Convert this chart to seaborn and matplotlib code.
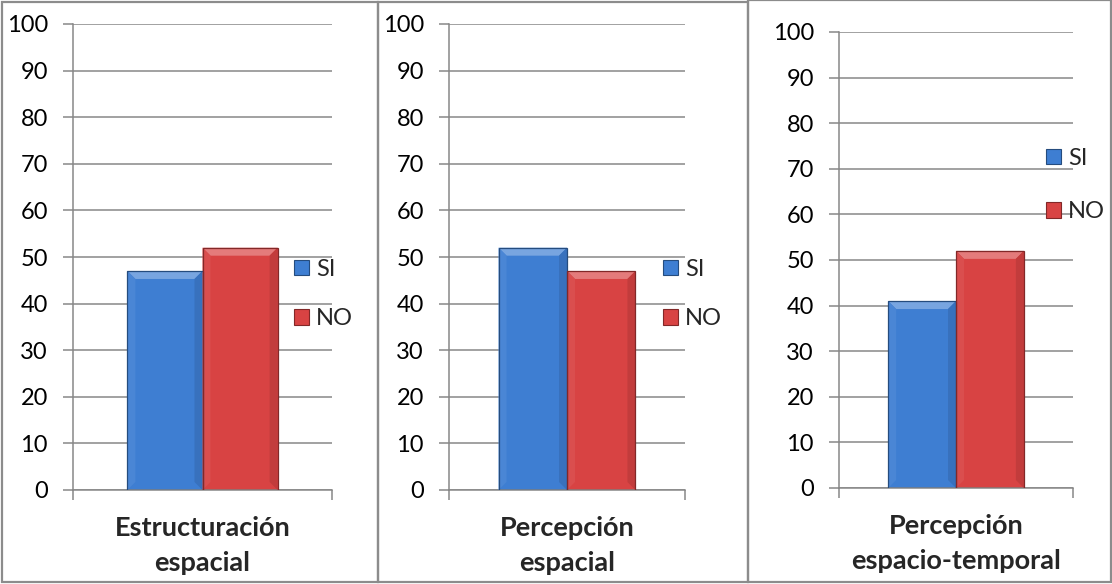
import numpy as np
import pandas as pd
import seaborn as sns
import matplotlib.pyplot as plt
import matplotlib.colors as mcolors
from matplotlib.patches import Rectangle, Polygon

# ---- data -------------------------------------------------------------
categories = ["Estructuración\nespacial", "Percepción\nespacial", "Percepción\nespacio-temporal"]
series = ["SI", "NO"]
si_values = [47, 52, 41]
no_values = [52, 47, 52]
y_ticks = [0, 10, 20, 30, 40, 50, 60, 70, 80, 90, 100]

colors = {"SI": "#3E7ED2", "NO": "#D84343"}
grid_color = "#878787"
border_color = "#8C8C8C"

W, H, DPI = 1112, 584, 100

sns.set_theme(style="white")
plt.rcParams["font.family"] = ["Lato", "DejaVu Sans"]

fig = plt.figure(figsize=(W / DPI, H / DPI), dpi=DPI)
fig.patch.set_facecolor("white")

# pixel layout of each panel: plot box, legend anchor, frame, legend row spacing
panels = [
    dict(left=73, right=332, top=24, bottom=490, leg=(294, 294), spacing=1.2,
         frame=(2, 2, 378, 582)),
    dict(left=449, right=685, top=24, bottom=490, leg=(663, 294), spacing=1.2,
         frame=(378, 2, 748, 582)),
    dict(left=839, right=1073, top=32, bottom=488, leg=(1046, 185), spacing=1.38,
         frame=(748, 0, 1111, 582)),
]


def shade(color, amount):
    """amount > 0 lightens towards white, < 0 darkens towards black."""
    c = np.array(mcolors.to_rgb(color))
    if amount >= 0:
        return tuple(c + (1 - c) * amount)
    return tuple(c * (1 + amount))


def add_bevel(ax, patch, base, size_px=8):
    """Draw bevelled edges over a bar using its own geometry."""
    x0, y0 = patch.get_x(), patch.get_y()
    x1, y1 = x0 + patch.get_width(), y0 + patch.get_height()
    to_disp = ax.transData.transform
    to_data = ax.transData.inverted().transform
    (dx0, dy0), (dx1, dy1) = to_disp([(x0, y0), (x1, y1)])
    s = min(size_px, (dx1 - dx0) / 2, (dy1 - dy0) / 2)
    outer = [(dx0, dy1), (dx1, dy1), (dx1, dy0), (dx0, dy0)]
    inner = [(dx0 + s, dy1 - s), (dx1 - s, dy1 - s), (dx1 - s, dy0 + s), (dx0 + s, dy0 + s)]
    faces = [
        ([outer[0], outer[1], inner[1], inner[0]], shade(base, 0.30)),   # top
        ([outer[1], outer[2], inner[2], inner[1]], shade(base, -0.10)),  # right
        ([outer[3], outer[0], inner[0], inner[3]], shade(base, 0.06)),   # left
    ]
    for pts, col in faces:
        ax.add_patch(Polygon(to_data(pts), closed=True, facecolor=col,
                             edgecolor="none", zorder=3))
    ax.add_patch(Rectangle((x0, y0), x1 - x0, y1 - y0, fill=False,
                           edgecolor=shade(base, -0.40), linewidth=0.9, zorder=4))


for i, p in enumerate(panels):
    ax = fig.add_axes([p["left"] / W, 1 - p["bottom"] / H,
                       (p["right"] - p["left"]) / W, (p["bottom"] - p["top"]) / H])
    df = pd.DataFrame({
        "categoria": [categories[i]] * 2,
        "serie": series,
        "valor": [si_values[i], no_values[i]],
    })
    sns.barplot(data=df, x="categoria", y="valor", hue="serie", hue_order=series,
                palette=colors, width=0.58, gap=0, saturation=1, ax=ax,
                edgecolor="none", zorder=2)

    ax.set_xlim(-0.5, 0.5)
    ax.set_ylim(0, 100)
    ax.set_yticks(y_ticks)
    ax.set_xlabel("")
    ax.set_ylabel("")
    ax.yaxis.grid(True, color=grid_color, linewidth=1.1)
    ax.set_axisbelow(True)

    # category ticks at the edges, category name centred under the bars
    ax.set_xticks([-0.5, 0.5])
    ax.set_xticklabels(["", ""])
    ax.set_xticks([0], minor=True)
    ax.set_xticklabels([categories[i]], minor=True, fontweight="bold",
                       fontsize=19.5, linespacing=1.55)
    ax.tick_params(axis="x", which="major", direction="out", length=7,
                   width=1.1, color=grid_color, bottom=True)
    ax.tick_params(axis="x", which="minor", length=0, pad=19)
    ax.tick_params(axis="y", direction="out", length=7, width=1.1,
                   color=grid_color, left=True, labelsize=17, pad=11,
                   labelcolor="black")

    for side in ("top", "right"):
        ax.spines[side].set_visible(False)
    for side in ("left", "bottom"):
        ax.spines[side].set_color(grid_color)
        ax.spines[side].set_linewidth(1.1)

    fig.canvas.draw()
    bars = [b for b in ax.patches if isinstance(b, Rectangle)][:2]
    for bar, name in zip(bars, series):
        add_bevel(ax, bar, colors[name])

    ax.legend_.remove()
    handles = [Rectangle((0, 0), 1, 1, facecolor=colors[s],
                         edgecolor=shade(colors[s], -0.40), linewidth=0.8)
               for s in series]
    fig.legend(handles, series, loc="center left",
               bbox_to_anchor=(p["leg"][0] / W, 1 - p["leg"][1] / H),
               bbox_transform=fig.transFigure, frameon=False, fontsize=17,
               handlelength=0.62, handleheight=0.62, handletextpad=0.3,
               labelspacing=p["spacing"], borderpad=0, borderaxespad=0)

    fx0, fy0, fx1, fy1 = p["frame"]
    fig.patches.append(Rectangle((fx0 / W, 1 - fy1 / H), (fx1 - fx0) / W,
                                 (fy1 - fy0) / H, transform=fig.transFigure,
                                 fill=False, edgecolor=border_color,
                                 linewidth=1.6, zorder=10))

fig.savefig("out.png", dpi=DPI, facecolor="white")
